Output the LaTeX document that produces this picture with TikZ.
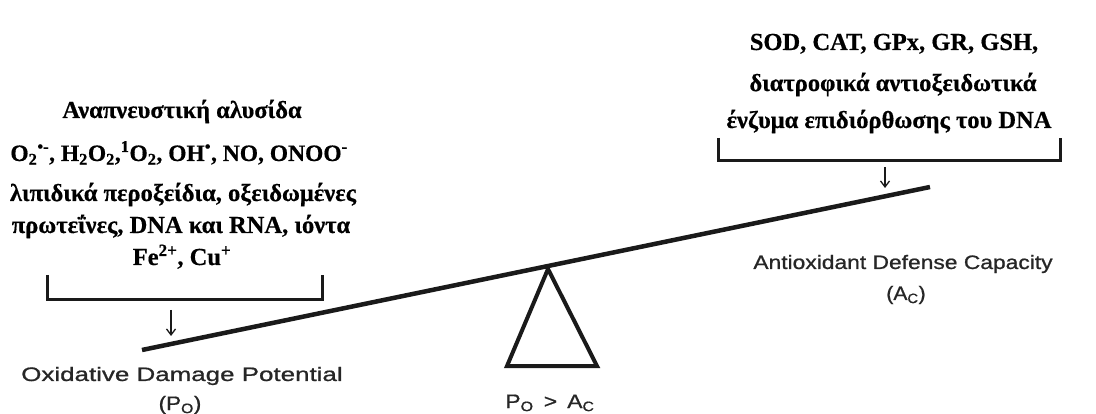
\documentclass[tikz,border=0pt]{standalone}
\usepackage{fontspec}
\usepackage{graphicx}
\setmainfont{Liberation Serif}[BoldFeatures={FakeBold=0.5}]
\newfontfamily\labfont[FakeBold=0.8]{Liberation Sans}
\usetikzlibrary{arrows.meta}
\definecolor{ink}{HTML}{1A1A1A}
\definecolor{scan}{HTML}{262626}
\tikzset{
  gr/.style={font=\fontsize{24.5}{28}\selectfont\bfseries, anchor=base, inner sep=0pt, text=black},
  lab/.style={font=\fontsize{19.5}{22}\selectfont\labfont, anchor=base, inner sep=0pt, text=scan},
  bracketline/.style={draw=ink, line width=3pt, line join=miter},
  pointer/.style={draw=ink, line width=1.3pt, -{Straight Barb[length=6pt,width=9pt]}},
  beamline/.style={draw=ink, line width=4.5pt},
  fulcrum/.style={draw=ink, line width=4pt, line join=miter},
}
\newcommand{\wide}[2]{\scalebox{#1}[1]{#2}}
\begin{document}
\begin{tikzpicture}[x=1pt,y=-1pt]
\useasboundingbox[fill=white] (0,0) rectangle (1096,414);
% left text block
\node[gr] (l1) at (182,118) {Αναπνευστική αλυσίδα};
\node[gr, font=\fontsize{23.5}{28}\selectfont\bfseries] (l2) at (179,161) {O\textsubscript{2}\textsuperscript{•-}, H\textsubscript{2}O\textsubscript{2},\textsuperscript{1}O\textsubscript{2}, OH\textsuperscript{•}, NO, ONOO\textsuperscript{-}};
\node[gr] (l3) at (183,201) {λιπιδικά περοξείδια, οξειδωμένες};
\node[gr] (l4) at (181,233) {πρωτεΐνες, DNA και RNA, ιόντα};
\node[gr] (l5) at (182,265) {Fe\textsuperscript{2+}, Cu\textsuperscript{+}};
% right text block
\node[gr] (r1) at (894,50) {SOD, CAT, GPx, GR, GSH,};
\node[gr] (r2) at (893,91) {διατροφικά αντιοξειδωτικά};
\node[gr] (r3) at (889,128) {ένζυμα επιδιόρθωσης του DNA};
% brackets
\coordinate (lbA) at (47,275); \coordinate (lbB) at (47,300);
\coordinate (lbC) at (322,300); \coordinate (lbD) at (322,275);
\draw[bracketline] (lbA) -- (lbB) -- (lbC) -- (lbD);
\coordinate (rbA) at (718,138); \coordinate (rbB) at (718,161);
\coordinate (rbC) at (1060,161); \coordinate (rbD) at (1060,138);
\draw[bracketline] (rbA) -- (rbB) -- (rbC) -- (rbD);
% arrows
\coordinate (la0) at (171,310); \coordinate (la1) at (171,336);
\draw[pointer] (la0) -- (la1);
\coordinate (ra0) at (885,167); \coordinate (ra1) at (885,188);
\draw[pointer] (ra0) -- (ra1);
% beam and fulcrum
\coordinate (beamL) at (142,350); \coordinate (beamR) at (930,187);
\draw[beamline] (beamL) -- (beamR);
\coordinate (apex) at (548,269); \coordinate (baseL) at (507,366); \coordinate (baseR) at (597,366);
\draw[fulcrum] (apex) -- (baseL) -- (baseR) -- cycle;
% labels
\node[lab] (odp) at (182,381) {\wide{1.33}{Oxidative Damage Potential}};
\node[lab] (po) at (180,410) {\wide{1.15}{(P\textsubscript{O})}};
\node[lab] (adc) at (903,269) {\wide{1.17}{Antioxidant Defense Capacity}};
\node[lab] (ac) at (906,300) {\wide{1.08}{(A\textsubscript{C})}};
\node[lab] (cmp) at (550,408) {\wide{1.17}{P\textsubscript{O} \,>\, A\textsubscript{C}}};
\end{tikzpicture}
\end{document}
